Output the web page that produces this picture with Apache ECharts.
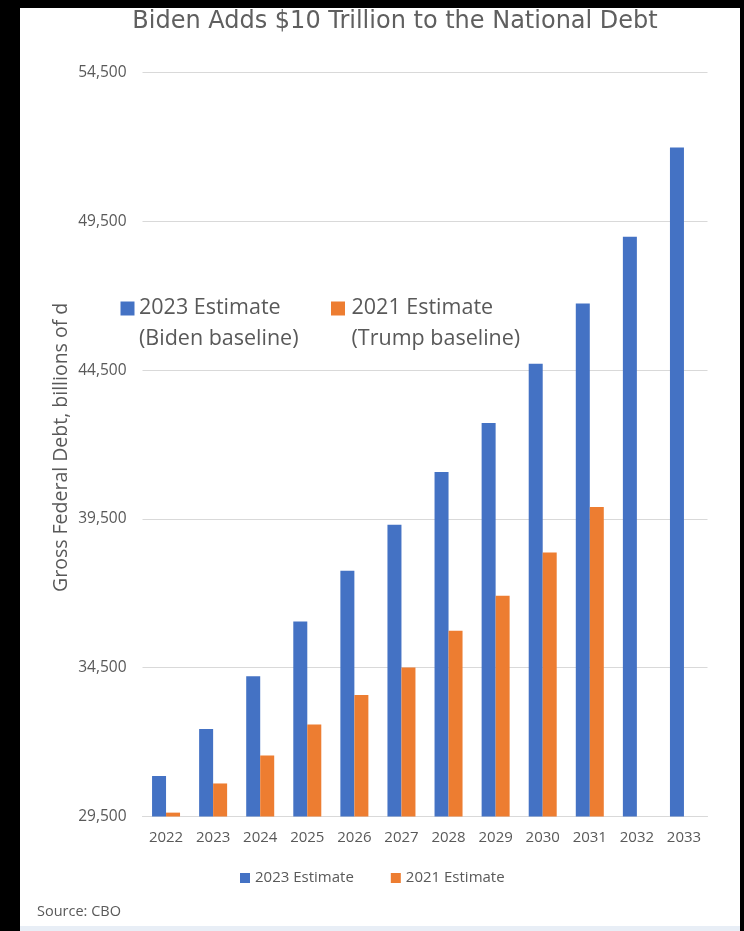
<!DOCTYPE html>
<html>
<head>
<meta charset="utf-8">
<script src="https://cdn.jsdelivr.net/npm/echarts@6/dist/echarts.min.js"></script>
<style>
html,body{margin:0;padding:0;background:#000;}
#wrap{position:relative;width:744px;height:931px;background:#000;overflow:hidden;}
#panel{position:absolute;left:20px;top:8px;width:720px;height:918px;background:#fff;}
#strip{position:absolute;left:20px;top:926px;width:720px;height:5px;background:#e8eef6;}
#chart{position:absolute;left:0;top:0;width:744px;height:931px;}
</style>
</head>
<body>
<div id="wrap"><div id="panel"></div><div id="strip"></div><div id="chart"></div></div>
<script>
var titleText = 'Biden Adds $10 Trillion to the National Debt';
var yAxisName = 'Gross Federal Debt, billions of dollars';
var sourceText = 'Source: CBO';
var years = ['2022','2023','2024','2025','2026','2027','2028','2029','2030','2031','2032','2033'];
var seriesNames = ['2023 Estimate', '2021 Estimate'];
var inlineLegendLabels = ['2023 Estimate\n(Biden baseline)', '2021 Estimate\n(Trump baseline)'];
var est2023 = [30860, 32440, 34210, 36050, 37760, 39300, 41080, 42720, 44710, 46740, 48980, 51980];
var est2021 = [29630, 30610, 31550, 32590, 33580, 34510, 35740, 36920, 38370, 39900, null, null];
var yMin = 29500, yMax = 54500, yStep = 5000;

var BLUE = '#4472C4', ORANGE = '#ED7D31', TXT = '#595959', GRID = '#d9d9d9';
var FONT = '"Open Sans", sans-serif';

var chart = echarts.init(document.getElementById('chart'), null, {renderer: 'canvas'});
chart.setOption({
  backgroundColor: 'transparent',
  animation: false,
  grid: {left: 142.5, right: 36.5, top: 72.5, bottom: 114.5, containLabel: false},
  legend: {
    data: seriesNames,
    left: 235, top: 865,
    icon: 'rect', itemWidth: 10, itemHeight: 10, itemGap: 37,
    textStyle: {color: TXT, fontFamily: FONT, fontSize: 15, lineHeight: 16}
  },
  xAxis: {
    type: 'category', data: years,
    axisLine: {show: true, lineStyle: {color: GRID, width: 1}},
    axisTick: {show: false},
    axisLabel: {color: TXT, fontFamily: FONT, fontSize: 15, margin: 14}
  },
  yAxis: {
    type: 'value', min: yMin, max: yMax, interval: yStep,
    axisLine: {show: false}, axisTick: {show: false},
    splitLine: {lineStyle: {color: GRID, width: 1}},
    axisLabel: {
      color: TXT, fontFamily: FONT, fontSize: 15.5, margin: 16,
      formatter: function (v) { return v.toLocaleString('en-US'); }
    }
  },
  series: [
    {name: seriesNames[0], type: 'bar', data: est2023, barWidth: 14, barGap: '0%',
     itemStyle: {color: BLUE}},
    {name: seriesNames[1], type: 'bar', data: est2021, barWidth: 14, barGap: '0%',
     itemStyle: {color: ORANGE}}
  ],
  graphic: [
    {type: 'text', x: 395, y: 22, style: {text: titleText, fill: '#5f5f5f',
      font: '24px "DejaVu Sans", sans-serif', align: 'center', verticalAlign: 'middle'}},
    {type: 'text', x: 61, y: 592, rotation: Math.PI / 2,
      style: {text: yAxisName, fill: TXT, font: '19.5px ' + FONT, align: 'left', verticalAlign: 'middle',
        width: 296, overflow: 'truncate', ellipsis: ''}},
    {type: 'rect', shape: {x: 120.5, y: 301.5, width: 14, height: 14}, style: {fill: BLUE}},
    {type: 'text', x: 139, y: 307.5, style: {text: inlineLegendLabels[0], fill: TXT,
      font: '21.5px ' + FONT, lineHeight: 31, align: 'left', verticalAlign: 'top', y: -15}},
    {type: 'rect', shape: {x: 331, y: 301.5, width: 14, height: 14}, style: {fill: ORANGE}},
    {type: 'text', x: 351.5, y: 307.5, style: {text: inlineLegendLabels[1], fill: TXT,
      font: '21.5px ' + FONT, lineHeight: 31, align: 'left', verticalAlign: 'top', y: -15}},
    {type: 'text', x: 37, y: 912, style: {text: sourceText, fill: TXT,
      font: '14.5px ' + FONT, align: 'left', verticalAlign: 'middle'}}
  ]
});
</script>
</body>
</html>
